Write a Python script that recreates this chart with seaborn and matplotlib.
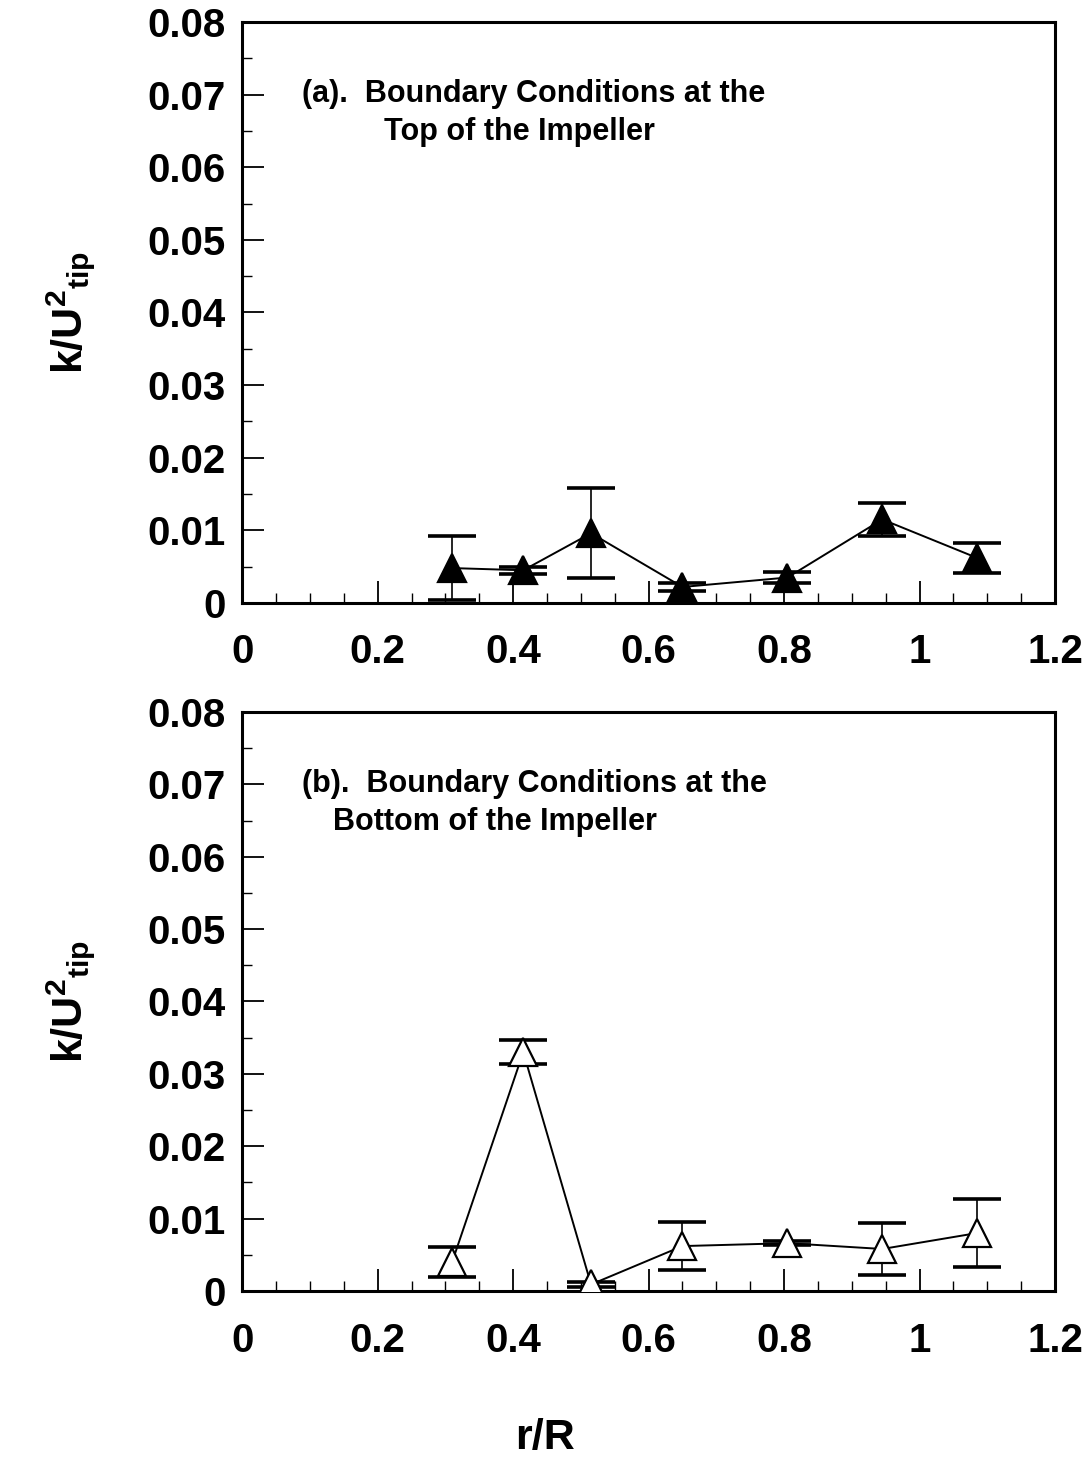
import matplotlib
matplotlib.use("Agg")
import matplotlib.pyplot as plt
from matplotlib.ticker import MultipleLocator, FuncFormatter
import seaborn as sns
import pandas as pd

# r/R positions
r_top = [0.31, 0.415, 0.515, 0.65, 0.805, 0.945, 1.085]
r_bot = [0.31, 0.415, 0.515, 0.65, 0.805, 0.945, 1.085]

# k/U^2_tip, top of impeller (a)
k_top = [0.0048, 0.0045, 0.0096, 0.0022, 0.0035, 0.0115, 0.0062]
err_top = [0.0044, 0.0005, 0.0062, 0.0005, 0.0007, 0.0023, 0.0021]

# k/U^2_tip, bottom of impeller (b)
k_bot = [0.0040, 0.0330, 0.0009, 0.0062, 0.0066, 0.0058, 0.0080]
err_bot = [0.0021, 0.0017, 0.0004, 0.0033, 0.0003, 0.0036, 0.0047]

sns.set_style("ticks", rc={"text.color": "black", "axes.labelcolor": "black",
                           "xtick.color": "black", "ytick.color": "black",
                           "axes.edgecolor": "black"})
plt.rcParams["font.family"] = ["Liberation Sans", "DejaVu Sans"]
plt.rcParams["mathtext.fontset"] = "custom"
plt.rcParams["mathtext.bf"] = "Liberation Sans:bold"
plt.rcParams["mathtext.rm"] = "Liberation Sans:bold"

fig = plt.figure(figsize=(10.91, 14.67), dpi=100)
ax_a = fig.add_axes([0.222, 0.589, 0.745, 0.396])
ax_b = fig.add_axes([0.222, 0.120, 0.745, 0.3947])


def fmt(v, pos):
    if abs(v) < 1e-9:
        return "0"
    return f"{v:.2f}"


def fmt_x(v, pos):
    if abs(v) < 1e-9:
        return "0"
    if abs(v - 1) < 1e-9:
        return "1"
    return f"{v:.1f}"


def draw(ax, r, k, err, filled, line1, line2, x2):
    df = pd.DataFrame({"r": r, "k": k})
    ax.errorbar(r, k, yerr=err, fmt="none", ecolor="black", elinewidth=1.2,
                capsize=17, capthick=2.6, zorder=2)
    sns.lineplot(data=df, x="r", y="k", ax=ax, color="black", linewidth=1.4,
                 marker="^", markersize=20,
                 markerfacecolor="black" if filled else "white",
                 markeredgecolor="black", markeredgewidth=1.6, zorder=3)
    ax.set_xlim(0, 1.2)
    ax.set_ylim(0, 0.08)
    ax.xaxis.set_major_locator(MultipleLocator(0.2))
    ax.xaxis.set_minor_locator(MultipleLocator(0.05))
    ax.yaxis.set_major_locator(MultipleLocator(0.01))
    ax.yaxis.set_minor_locator(MultipleLocator(0.005))
    ax.yaxis.set_major_formatter(FuncFormatter(fmt))
    ax.xaxis.set_major_formatter(FuncFormatter(fmt_x))
    ax.tick_params(which="major", direction="in", length=16, width=1.3,
                   labelsize=29, pad=12)
    ax.tick_params(which="minor", direction="in", length=7, width=1.0)
    ax.tick_params(axis="x", which="major", pad=22)
    for lab in ax.get_xticklabels() + ax.get_yticklabels():
        lab.set_fontweight("bold")
    for s in ax.spines.values():
        s.set_visible(True)
        s.set_linewidth(2.2)
    ax.set_xlabel("")
    ax.set_ylabel(r"$\mathbf{k/U^{2}{}_{tip}}$", fontsize=31, labelpad=36)
    ax.text(0.074, 0.902, line1, transform=ax.transAxes, fontsize=22,
            fontweight="bold", va="top", ha="left")
    ax.text(x2, 0.836, line2, transform=ax.transAxes, fontsize=22,
            fontweight="bold", va="top", ha="left")


draw(ax_a, r_top, k_top, err_top, True,
     "(a).  Boundary Conditions at the", "Top of the Impeller", 0.175)
draw(ax_b, r_bot, k_bot, err_bot, False,
     "(b).  Boundary Conditions at the", "Bottom of the Impeller", 0.112)

fig.text(0.5, 0.006, "r/R", fontsize=31, fontweight="bold", ha="center",
         va="bottom")

fig.savefig("out.png", dpi=100)
